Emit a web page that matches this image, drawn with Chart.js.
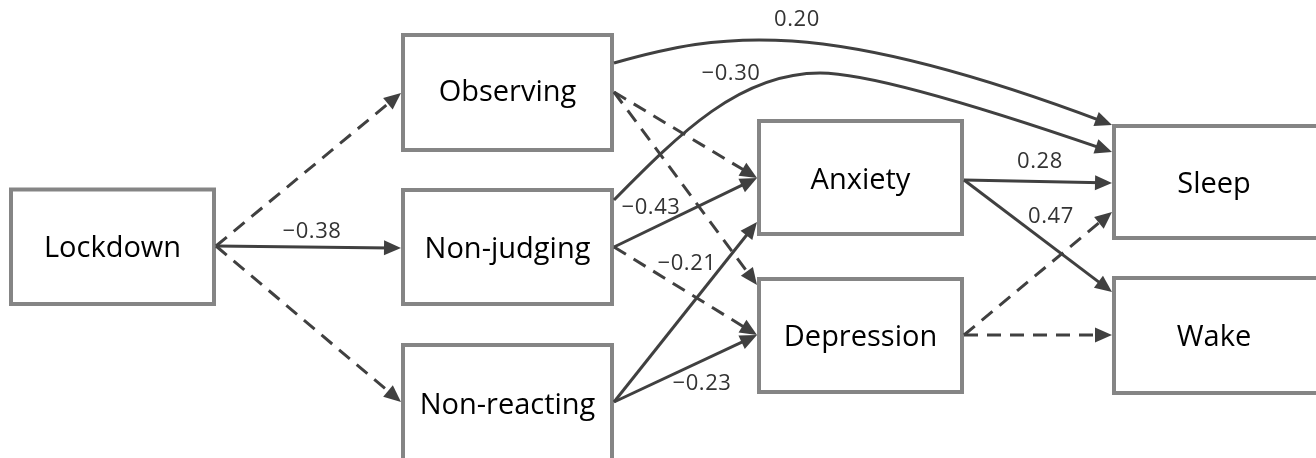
<!DOCTYPE html>
<html>
<head>
<meta charset="utf-8">
<script src="https://cdn.jsdelivr.net/npm/chart.js@4.4.1/dist/chart.umd.min.js"></script>
<style>
html,body{margin:0;padding:0;background:#fff;}
#wrap{width:1316px;height:458px;position:relative;}
</style>
</head>
<body>
<div id="wrap"><canvas id="c" width="1316" height="458"></canvas></div>
<script>
// ---------- data ----------
const nodeNames = ['Lockdown','Observing','Non-judging','Non-reacting','Anxiety','Depression','Sleep','Wake'];
const edgeFrom  = [0,0,0,1,1,1,2,2,2,3,3,4,4,5,5];
const edgeTo    = [1,2,3,6,4,5,6,4,5,4,5,6,7,6,7];
const edgeCoef  = [null,'\u22120.38',null,'0.20',null,null,'\u22120.30','\u22120.43',null,'\u22120.21','\u22120.23','0.28','0.47',null,null];

// ---------- layout (positions / sizes / styles) ----------
const boxRect = [ // left, right, top, bottom (border centre lines)
  [11,214,189.5,304],
  [403,612,35,150],
  [403,612,190,304],
  [403,612,345,461],
  [759,962,121,234],
  [759,962,279,392],
  [1114,1330,126,238],
  [1114,1330,278,393]
];
const textDy = [0,-2,0,0,1,0,0,0];
const anchorY0 = [246,246,246,63,92,92,200,247,247,402,402,180,180,335,335];
const anchorY1 = [93,248,402,125,178,285,152,178,335,222,335,183,292,212,335];
const curveCtrl = {
  3: [[720,33],[820,15]],
  6: [[680,133],[740,73],[820,73],[870,73],[990,110]]
};
const labelPos = {
  1:[312,232], 3:[797,20], 6:[731,74], 7:[651,208], 9:[687,264], 10:[702,384], 11:[1040,162], 12:[1051,217]
};
const BORDER = 4, EDGE_W = 3, BOX_COLOR = '#858585', EDGE_COLOR = '#404040';
const ARROW_L = 17, ARROW_HW = 7.5;
const DASH = [14, 9];

function startPt(i){ const b = boxRect[edgeFrom[i]]; return [b[1] + BORDER/2, anchorY0[i]]; }
function endPt(i){ const b = boxRect[edgeTo[i]]; return [b[0] - BORDER/2, anchorY1[i]]; }

// straight edges as line datasets (curved ones drawn by plugin through the scales)
const datasets = [];
for (let i = 0; i < edgeFrom.length; i++) {
  if (curveCtrl[i]) continue;
  const s = startPt(i), e = endPt(i);
  const dx = e[0]-s[0], dy = e[1]-s[1], L = Math.hypot(dx,dy);
  const cut = ARROW_L * 0.6;
  datasets.push({
    label: nodeNames[edgeFrom[i]] + ' \u2192 ' + nodeNames[edgeTo[i]],
    data: [{x:s[0], y:s[1]}, {x:e[0]-dx/L*cut, y:e[1]-dy/L*cut}],
    showLine: true, borderColor: EDGE_COLOR, borderWidth: EDGE_W,
    borderDash: edgeCoef[i] ? [] : DASH, pointRadius: 0, tension: 0, fill: false,
    borderCapStyle: 'butt'
  });
}

const diagramPlugin = {
  id: 'diagram',
  beforeDatasetsDraw(chart) {
    const c = chart.ctx, X = chart.scales.x, Y = chart.scales.y;
    c.save();
    boxRect.forEach(b => {
      const x0 = X.getPixelForValue(b[0]), x1 = X.getPixelForValue(b[1]);
      const y0 = Y.getPixelForValue(b[2]), y1 = Y.getPixelForValue(b[3]);
      c.fillStyle = '#fff';
      c.fillRect(x0, y0, x1-x0, y1-y0);
      c.lineWidth = BORDER; c.strokeStyle = BOX_COLOR;
      c.strokeRect(x0, y0, x1-x0, y1-y0);
    });
    c.restore();
  },
  afterDatasetsDraw(chart) {
    const c = chart.ctx, X = chart.scales.x, Y = chart.scales.y;
    const P = p => [X.getPixelForValue(p[0]), Y.getPixelForValue(p[1])];
    c.save();
    c.strokeStyle = EDGE_COLOR; c.fillStyle = EDGE_COLOR; c.lineWidth = EDGE_W;
    for (let i = 0; i < edgeFrom.length; i++) {
      const s = P(startPt(i)), e = P(endPt(i));
      let prev = s;
      if (curveCtrl[i]) {
        const cp = curveCtrl[i].map(P);
        prev = cp[cp.length-1];
        const dx = e[0]-prev[0], dy = e[1]-prev[1], L = Math.hypot(dx,dy);
        const ee = [e[0]-dx/L*ARROW_L*0.6, e[1]-dy/L*ARROW_L*0.6];
        const pts = cp.concat([ee]);
        c.beginPath(); c.moveTo(s[0], s[1]);
        for (let k = 0; k + 2 < pts.length; k += 3) {
          c.bezierCurveTo(pts[k][0],pts[k][1],pts[k+1][0],pts[k+1][1],pts[k+2][0],pts[k+2][1]);
        }
        c.setLineDash(edgeCoef[i] ? [] : DASH);
        c.stroke(); c.setLineDash([]);
      }
      // arrow head
      const ang = Math.atan2(e[1]-prev[1], e[0]-prev[0]);
      const bx = e[0] - Math.cos(ang)*ARROW_L, by = e[1] - Math.sin(ang)*ARROW_L;
      c.beginPath();
      c.moveTo(e[0], e[1]);
      c.lineTo(bx + Math.sin(ang)*ARROW_HW, by - Math.cos(ang)*ARROW_HW);
      c.lineTo(bx - Math.sin(ang)*ARROW_HW, by + Math.cos(ang)*ARROW_HW);
      c.closePath(); c.fill();
    }
    // box labels
    c.fillStyle = '#000';
    c.font = '29px "Open Sans"';
    c.textAlign = 'center'; c.textBaseline = 'alphabetic';
    boxRect.forEach((b, j) => {
      const x = X.getPixelForValue((b[0] + (j >= 6 ? 1314 : b[1])) / 2);
      const y = Y.getPixelForValue((b[2] + b[3]) / 2) + 10.5 + textDy[j];
      c.fillText(nodeNames[j], x, y);
    });
    // coefficient labels
    c.fillStyle = '#333';
    c.font = '22px "Open Sans"';
    try { c.letterSpacing = '0.6px'; } catch (err) {}
    c.textBaseline = 'middle';
    for (let i = 0; i < edgeFrom.length; i++) {
      if (!edgeCoef[i]) continue;
      const p = P(labelPos[i]);
      c.fillText(edgeCoef[i], p[0], p[1]);
    }
    c.restore();
  }
};

new Chart(document.getElementById('c'), {
  type: 'scatter',
  data: { datasets },
  options: {
    responsive: false, animation: false, events: [],
    layout: { padding: 0 },
    plugins: { legend: { display: false }, tooltip: { enabled: false } },
    scales: {
      x: { type: 'linear', min: 0, max: 1316, display: false },
      y: { type: 'linear', min: 0, max: 458, reverse: true, display: false }
    }
  },
  plugins: [diagramPlugin]
});
</script>
</body>
</html>
